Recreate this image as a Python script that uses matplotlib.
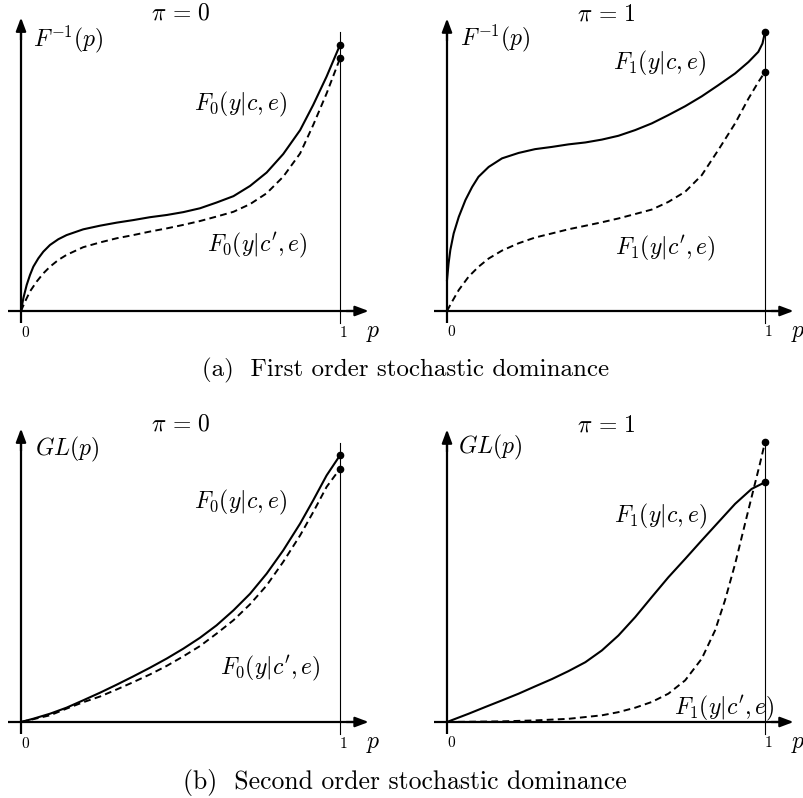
import matplotlib
matplotlib.use("Agg")
import matplotlib.pyplot as plt

plt.rcParams['mathtext.fontset'] = 'cm'

W, H = 804, 798

# curves: p values and heights (1 unit = p from 0 to 1)
tl_sol_p = [0, 0.0073, 0.0178, 0.0282, 0.0387, 0.0543, 0.07, 0.0909, 0.117, 0.143, 0.195, 0.248, 0.30,
            0.352, 0.404, 0.457, 0.509, 0.561, 0.613, 0.666, 0.718, 0.77, 0.822, 0.875, 0.916, 0.958, 1]
tl_sol_v = [0, 0.0397, 0.0815, 0.1129, 0.139, 0.165, 0.186, 0.207, 0.225, 0.238, 0.256, 0.2675, 0.277,
            0.285, 0.294, 0.301, 0.31, 0.322, 0.34, 0.36, 0.392, 0.434, 0.492, 0.567, 0.646, 0.735, 0.834]
tl_das_p = [0, 0.0125, 0.028, 0.049, 0.07, 0.091, 0.117, 0.143, 0.195, 0.248, 0.30, 0.352, 0.404,
            0.457, 0.509, 0.561, 0.613, 0.666, 0.718, 0.77, 0.822, 0.875, 0.916, 0.958, 1]
tl_das_v = [0, 0.029, 0.061, 0.092, 0.118, 0.139, 0.16, 0.176, 0.2, 0.215, 0.228, 0.238, 0.249,
            0.259, 0.27, 0.282, 0.296, 0.311, 0.335, 0.369, 0.421, 0.494, 0.583, 0.682, 0.792]

tr_sol_p = [0, 0.005, 0.0105, 0.021, 0.037, 0.058, 0.079, 0.099, 0.131, 0.173, 0.225, 0.277, 0.33, 0.382,
            0.435, 0.487, 0.539, 0.592, 0.644, 0.696, 0.749, 0.801, 0.853, 0.906, 0.948, 0.979, 0.992, 1]
tr_sol_v = [0.097, 0.15, 0.192, 0.244, 0.296, 0.349, 0.39, 0.422, 0.453, 0.48, 0.497, 0.509, 0.516, 0.524,
            0.53, 0.539, 0.551, 0.569, 0.59, 0.616, 0.644, 0.675, 0.71, 0.747, 0.783, 0.815, 0.841, 0.877]
tr_das_p = [0, 0.0157, 0.037, 0.068, 0.099, 0.131, 0.173, 0.225, 0.277, 0.33, 0.382, 0.435, 0.487,
            0.539, 0.592, 0.644, 0.696, 0.749, 0.801, 0.853, 0.906, 0.948, 0.979, 1]
tr_das_v = [0, 0.029, 0.066, 0.108, 0.139, 0.165, 0.19, 0.213, 0.231, 0.244, 0.257, 0.268, 0.279,
            0.291, 0.305, 0.319, 0.343, 0.375, 0.427, 0.506, 0.59, 0.668, 0.72, 0.752]

bl_sol_p = [0, 0.039, 0.091, 0.143, 0.195, 0.248, 0.30, 0.352, 0.404, 0.457, 0.509, 0.561, 0.613,
            0.666, 0.718, 0.77, 0.822, 0.875, 0.916, 0.958, 1]
bl_sol_v = [0, 0.0104, 0.026, 0.045, 0.068, 0.092, 0.117, 0.143, 0.17, 0.199, 0.23, 0.264, 0.303,
            0.35, 0.402, 0.465, 0.538, 0.622, 0.695, 0.773, 0.836]
bl_das_p = [0, 0.091, 0.143, 0.195, 0.248, 0.30, 0.352, 0.404, 0.457, 0.509, 0.561, 0.613,
            0.666, 0.718, 0.77, 0.822, 0.875, 0.916, 0.958, 1]
bl_das_v = [0, 0.021, 0.042, 0.062, 0.08, 0.102, 0.125, 0.149, 0.176, 0.206, 0.238, 0.277,
            0.319, 0.369, 0.428, 0.502, 0.585, 0.658, 0.737, 0.794]

br_sol_p = [0, 0.068, 0.12, 0.173, 0.225, 0.277, 0.33, 0.382, 0.435, 0.487, 0.539, 0.592, 0.644,
            0.696, 0.749, 0.801, 0.853, 0.906, 0.958, 1]
br_sol_v = [0, 0.026, 0.047, 0.068, 0.089, 0.112, 0.135, 0.16, 0.188, 0.225, 0.272, 0.33, 0.393,
            0.455, 0.513, 0.571, 0.628, 0.686, 0.733, 0.754]
br_das_p = [0, 0.173, 0.277, 0.382, 0.487, 0.539, 0.592, 0.644, 0.696, 0.749, 0.801, 0.843, 0.874,
            0.906, 0.937, 0.963, 0.984, 1]
br_das_v = [0, 0.002, 0.005, 0.01, 0.021, 0.031, 0.045, 0.063, 0.089, 0.131, 0.199, 0.288, 0.382,
            0.497, 0.623, 0.728, 0.812, 0.88]

titles = [r'$\pi\,=\,0$', r'$\pi\,=\,1$', r'$\pi\,=\,0$', r'$\pi\,=\,1$']
ylabels = [r'$F^{-1}(p)$', r'$F^{-1}(p)$', r'$GL(p)$', r'$GL(p)$']
lab_hi = [r'$F_0(y|c,e)$', r'$F_1(y|c,e)$', r'$F_0(y|c,e)$', r'$F_1(y|c,e)$']
lab_lo = [r"$F_0(y|c',e)$", r"$F_1(y|c',e)$", r"$F_0(y|c',e)$", r"$F_1(y|c',e)$"]

# panel layout: origin pixel (x, y from top), pixels per unit
origins = [(21, 311), (447, 311), (21, 722), (447, 722)]
scales = [319, 318, 319, 318]
hi_pos = [(0.687, 0.646), (0.667, 0.78), (0.687, 0.687), (0.67, 0.645)]
lo_pos = [(0.74, 0.207), (0.686, 0.198), (0.78, 0.169), (0.871, 0.044)]
yl_pos = [(0.147, 0.85), (0.151, 0.858), (0.144, 0.853), (0.135, 0.862)]
vline_top = [0.876, 0.877, 0.875, 0.88]

curves = [(tl_sol_p, tl_sol_v, tl_das_p, tl_das_v),
          (tr_sol_p, tr_sol_v, tr_das_p, tr_das_v),
          (bl_sol_p, bl_sol_v, bl_das_p, bl_das_v),
          (br_sol_p, br_sol_v, br_das_p, br_das_v)]

fig = plt.figure(figsize=(W / 100, H / 100), dpi=100)
xlim = (-0.07, 1.2)
ylim = (-0.12, 1.0)

for i in range(4):
    ox, oy = origins[i]
    s = scales[i]
    left = (ox + xlim[0] * s) / W
    bottom = 1 - (oy - ylim[0] * s) / H
    ax = fig.add_axes([left, bottom, (xlim[1] - xlim[0]) * s / W, (ylim[1] - ylim[0]) * s / H])
    ax.set_xlim(*xlim)
    ax.set_ylim(*ylim)
    ax.set_axis_off()

    sp, sv, dp, dv = curves[i]
    # thin vertical at p = 1
    ax.plot([1, 1], [-0.037, vline_top[i]], color='k', lw=0.8)
    # axes with arrows
    ax.plot([0, 0], [-0.037, 0.9], color='k', lw=1.6, solid_capstyle='butt')
    ax.annotate('', xy=(0, 0.92), xytext=(0, 0.85),
                arrowprops=dict(arrowstyle='-|>,head_length=0.8,head_width=0.3',
                                lw=1.6, color='k', shrinkA=0, shrinkB=0))
    ax.plot([-0.04, 1.07], [0, 0], color='k', lw=1.6, solid_capstyle='butt')
    ax.annotate('', xy=(1.09, 0), xytext=(1.02, 0),
                arrowprops=dict(arrowstyle='-|>,head_length=0.8,head_width=0.3',
                                lw=1.6, color='k', shrinkA=0, shrinkB=0))

    ax.plot(sp, sv, color='k', lw=1.5, solid_joinstyle='round')
    ax.plot(dp, dv, color='k', lw=1.4, linestyle=(0, (3.5, 2.2)))
    ax.plot([1, 1], [sv[-1], dv[-1]], 'o', color='k', ms=4.5)

    ax.text(0.5, 0.937, titles[i], ha='center', va='center', fontsize=17)
    ax.text(yl_pos[i][0], yl_pos[i][1], ylabels[i], ha='center', va='center', fontsize=17)
    ax.text(hi_pos[i][0], hi_pos[i][1], lab_hi[i], ha='center', va='center', fontsize=17)
    ax.text(lo_pos[i][0], lo_pos[i][1], lab_lo[i], ha='center', va='center', fontsize=17)
    ax.text(0.015, -0.066, r'$\mathrm{0}$', ha='center', va='center', fontsize=11)
    ax.text(1.01, -0.066, r'$\mathrm{1}$', ha='center', va='center', fontsize=11)
    ax.text(1.105, -0.066, r'$p$', ha='center', va='center', fontsize=17)

fig.text(406 / W, 1 - 370 / H, '(a)  First order stochastic dominance',
         ha='center', va='center', fontsize=18, family='cmr10')
fig.text(405 / W, 1 - 782 / H, '(b)  Second order stochastic dominance',
         ha='center', va='center', fontsize=18.5, family='cmr10')

fig.savefig('out.png', dpi=100)
